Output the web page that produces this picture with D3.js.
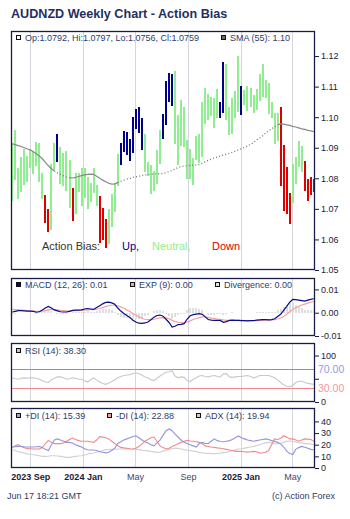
<!DOCTYPE html>
<html><head><meta charset="utf-8">
<script src="https://cdn.jsdelivr.net/npm/d3@7"></script>
<style>
body{margin:0;background:#fff}
svg{display:block;font-family:"Liberation Sans",Arial,sans-serif}
</style>
</head><body>
<svg id="c" width="350" height="519"></svg>
<script>
// ---------------- data ----------------
const startDate = "2023-07-21"; // first weekly bar
const highs = [
1.0916,1.0958,1.0834,1.0870,1.0896,1.0873,1.0896,1.0889,1.0919,1.0916,
1.0817,1.0745,1.0700,1.0847,1.0916,1.0945,1.0902,1.0883,1.0889,1.0860,
1.0768,1.0817,1.0817,1.0834,1.0834,1.0804,1.0785,1.0834,1.0778,1.0742,
1.0703,1.0667,1.0700,1.0749,1.0785,1.0880,1.0916,1.0955,1.0951,1.0929,
1.1001,1.1027,1.1033,1.0997,1.0945,1.0853,1.0844,1.0824,1.0893,1.0958,
1.1010,1.1118,1.1144,1.1141,1.1151,1.1007,1.1056,1.1033,1.0925,1.0896,
1.0866,1.0938,1.0945,1.1050,1.1095,1.1076,1.1066,1.1063,1.1092,1.1050,
1.1180,1.1174,1.1033,1.1063,1.1086,1.1200,1.1102,1.1089,1.1102,1.1095,
1.1072,1.1092,1.1141,1.1174,1.1122,1.1112,1.1050,1.1014,1.1014,1.1033,
1.0909,1.0837,1.0752,1.0847,1.0870,1.0922,1.0906,1.0857,1.0798,1.0804,
1.0797];
const lows = [
1.0726,1.0795,1.0732,1.0755,1.0778,1.0788,1.0834,1.0814,1.0840,1.0788,
1.0732,1.0654,1.0624,1.0631,1.0827,1.0853,1.0781,1.0775,1.0759,1.0703,
1.0660,1.0683,1.0755,1.0710,1.0735,1.0700,1.0723,1.0752,1.0710,1.0588,
1.0598,1.0572,1.0585,1.0641,1.0690,1.0775,1.0844,1.0886,1.0876,1.0857,
1.0883,1.0961,1.0948,1.0893,1.0821,1.0808,1.0749,1.0759,1.0781,1.0847,
1.0929,1.0974,1.1050,1.1036,1.0912,1.0844,1.0906,1.0902,1.0798,1.0798,
1.0778,1.0860,1.0850,1.0870,1.0978,1.0991,1.1004,1.0965,1.0997,1.0997,
1.1014,1.0991,1.0942,1.0945,1.0997,1.1017,1.1007,1.1040,1.1020,1.1033,
1.1014,1.1023,1.1053,1.1066,1.1063,1.1010,1.0997,1.0912,1.0922,1.0775,
1.0693,1.0683,1.0651,1.0719,1.0781,1.0837,1.0821,1.0759,1.0726,1.0745,
1.0756];
// action bias per week: U = up, N = neutral, D = down
const bias = ("NNNNNNNNNNNDDNNUNNNNDNNNNNNNNDDDNNNNUUUUUUUUNNNNNNUUUUNNNNNNNNNNNNNNNUUNNNNNUNNNNNNNNNNNNDDDDNNNNDDDD").split("");
const sma = [
1.0913,1.0910,1.0907,1.0904,1.0900,1.0896,1.0893,1.0887,1.0880,1.0873,
1.0864,1.0852,1.0841,1.0831,1.0824,1.0818,1.0813,1.0808,1.0804,1.0802,
1.0801,1.0803,1.0806,1.0809,1.0811,1.0813,1.0814,1.0813,1.0807,1.0800,
1.0794,1.0789,1.0784,1.0781,1.0782,1.0786,1.0790,1.0794,1.0797,1.0800,
1.0803,1.0805,1.0807,1.0809,1.0811,1.0812,1.0813,1.0814,1.0815,1.0815,
1.0816,1.0818,1.0822,1.0826,1.0831,1.0835,1.0838,1.0840,1.0841,1.0842,
1.0843,1.0843,1.0845,1.0849,1.0854,1.0859,1.0863,1.0867,1.0870,1.0873,
1.0876,1.0879,1.0882,1.0885,1.0889,1.0893,1.0897,1.0901,1.0906,1.0911,
1.0917,1.0925,1.0932,1.0939,1.0948,1.0955,1.0962,1.0969,1.0975,1.0978,
1.0977,1.0975,1.0973,1.0970,1.0968,1.0965,1.0962,1.0960,1.0957,1.0955,
1.0953];
const macd = [
0.0003,0.0006,0.0009,0.0009,0.0008,0.0007,0.0007,0.0006,0.0002,0.0004,
0.0012,0.0020,0.0027,0.0020,0.0012,0.0008,0.0004,0.0003,0.0003,0.0006,
0.0010,0.0011,0.0011,0.0012,0.0016,0.0018,0.0016,0.0014,0.0022,0.0030,
0.0038,0.0044,0.0045,0.0042,0.0036,0.0020,0.0007,-0.0003,-0.0012,-0.0020,
-0.0032,-0.0040,-0.0045,-0.0046,-0.0044,-0.0040,-0.0030,-0.0019,-0.0012,-0.0010,
-0.0015,-0.0028,-0.0042,-0.0062,-0.0058,-0.0051,-0.0050,-0.0047,-0.0027,-0.0013,
-0.0008,-0.0006,-0.0004,-0.0007,-0.0018,-0.0029,-0.0032,-0.0033,-0.0033,-0.0033,
-0.0041,-0.0038,-0.0033,-0.0032,-0.0033,-0.0033,-0.0034,-0.0034,-0.0035,-0.0034,
-0.0034,-0.0032,-0.0031,-0.0030,-0.0030,-0.0031,-0.0030,-0.0026,-0.0016,-0.0007,
0.0010,0.0027,0.0045,0.0057,0.0056,0.0054,0.0052,0.0050,0.0054,0.0057,
0.0060];
const signal = [
0.0014,0.0013,0.0012,0.0011,0.0010,0.0009,0.0008,0.0007,0.0006,0.0006,
0.0007,0.0009,0.0012,0.0013,0.0013,0.0012,0.0010,0.0009,0.0008,0.0008,
0.0008,0.0009,0.0010,0.0010,0.0011,0.0012,0.0013,0.0013,0.0015,0.0018,
0.0022,0.0026,0.0030,0.0032,0.0032,0.0030,0.0025,0.0019,0.0012,0.0005,
-0.0003,-0.0011,-0.0018,-0.0024,-0.0028,-0.0030,-0.0030,-0.0028,-0.0025,-0.0022,
-0.0021,-0.0022,-0.0026,-0.0033,-0.0038,-0.0041,-0.0043,-0.0043,-0.0040,-0.0035,
-0.0029,-0.0025,-0.0021,-0.0018,-0.0018,-0.0020,-0.0023,-0.0025,-0.0027,-0.0028,
-0.0031,-0.0033,-0.0033,-0.0033,-0.0033,-0.0033,-0.0033,-0.0034,-0.0034,-0.0034,
-0.0034,-0.0034,-0.0033,-0.0033,-0.0032,-0.0032,-0.0031,-0.0030,-0.0027,-0.0023,
-0.0016,-0.0007,0.0004,0.0014,0.0022,0.0028,0.0033,0.0037,0.0041,0.0045,
0.0048];
const rsi = [
52,50,49,51,52,51,52,52,51,49,
46,43,42,48,51,54,54,52,49,50,
52,51,49,49,46,43,48,52,47,43,
40,38,41,44,48,52,55,57,58,59,
61,63,61,58,54,52,48,46,51,56,
60,64,65,67,56,52,54,53,46,44,
49,52,56,57,55,54,56,57,55,54,
60,61,54,53,54,55,55,56,57,55,
52,54,57,57,57,57,55,52,47,42,
37,34,33,36,42,44,45,42,40,39,
38.3];
const plusDI = [
18,18.3,18.5,18.5,18.2,18,18,18,18.3,18.5,
17.5,16,15,20,24,25,24,23,22,22,
21.5,20,19,18,16.5,15.7,15.5,15.5,15,14,
13.5,13,13.5,15,17,21,22.5,24,25,26,
27,27.7,26,24,22.5,21.5,20,19,21.5,24,
28,32,33.5,32,29,26.6,24,22,21,20,
19,18,21,22,21,21,23,25,23.5,22.8,
22.5,23,23.5,24.5,26,27.5,26,25,24,23.5,
23,23.5,24,24.5,25,24.5,23.5,23,22,20.5,
18,14.5,12.5,11.5,16,17.5,18.5,17.8,17,16,
15.39];
const minusDI = [
17.7,19,20,18.5,17.5,16.6,16.5,16.3,16.3,16.3,
17.5,21,23.7,22,20.9,20.9,20.9,21.5,23,24.5,
25.7,24.5,23.5,23,23,23,22.5,22,24,26.9,
26.5,26,25,23,21,19,17.7,17.3,17,16.5,
16.3,17,18.5,20.5,23,24.5,26,26.6,23,19,
17.5,16.3,17,18.5,19.5,21,22,23,23.7,23.2,
23,22.5,22,21,19,18.5,18,17.7,17.3,17,
16.5,16,15.5,15,14.3,14.3,14.3,14,13.6,14,
14.3,14,13,12.9,13.5,15,20,25,24.5,25.5,
27.7,26.5,25,25,24,23,24,25,24.8,24.5,
22.88];
const adx = [
15.7,15,14,13.4,12.8,12.2,11.8,11.4,11,10.5,
10,10,10.2,10.5,10.5,10.3,10,9.5,9.1,9.2,
9.5,10,10.3,10.5,11.2,12,12.5,12.9,13.5,14.3,
15,15.7,15.8,16,16.2,16.3,16.3,16.3,16.3,16.3,
16.3,16,15.7,15.3,15,14.7,14.2,13.8,13.4,13.6,
14.5,15.3,16,16.5,17,16.8,16.3,15.8,15.3,15,
14.5,14,13.4,13,12.7,12.5,12.3,12.3,12.5,12.8,
13.2,13.4,14,14.8,15.5,16.3,16.5,17,17.5,18,
18.5,19.2,20,20.8,21.5,22,21.5,21,20.9,21.2,
22,23,23,22.8,22.3,21.8,21.5,21,20.9,20.5,
19.94];
const priceTicks = [1.05,1.06,1.07,1.08,1.09,1.10,1.11,1.12];
const macdTicks = [-0.01,0,0.01];
const rsiTicks = [0,50,100];
const rsiLabelTicks = [0,100];
const rsiLevels = [70,30];
const diTicks = [0,10,20,30,40];
const monthTicks = ["2023-09-01","2024-01-01","2024-05-01","2024-09-01","2025-01-01","2025-05-01"];
const monthLabels = ["2023 Sep","2024 Jan","May","Sep","2025 Jan","May"];
const lastBar = {op:"1.0792", hi:"1.0797", lo:"1.0756", cl:"1.0759"};

// ---------------- chart ----------------
const svg = d3.select("#c");
const L = 11, R = 315;
const P = {main:[31,270], macd:[278,336], rsi:[343,402], di:[408,468]};
const frameCol = "#1b1b48", gridCol = "#d6d6de", axisTxt = "#22223a", legTxt = "#2e3d6b";
const biasColor = {U:"#00008b", N:"#90ee90", D:"#dd0000"};

const parse = d3.timeParse("%Y-%m-%d");
const d0 = parse(startDate);
const dates = highs.map((_, i) => d3.timeDay.offset(d0, 7 * i));
const monthDates = monthTicks.map(parse);
const x = d3.scaleTime().domain([new Date(2023,6,18,5), new Date(2025,5,22,16)]).range([L, R]);
const bx = d => Math.round(x(d));

const yMain = d3.scaleLinear().domain([1.05, 1.1282]).range([P.main[1], P.main[0]]);
const yMacd = d3.scaleLinear().domain([-0.01, 0.0149]).range([P.macd[1], P.macd[0]]);
const yRsi = d3.scaleLinear().domain([0, 127]).range([P.rsi[1], P.rsi[0]]);
const yDi = d3.scaleLinear().domain([0, 51.5]).range([P.di[1], P.di[0]]);

// title
svg.append("text").attr("x", 11).attr("y", 18).attr("font-size", 12.6).attr("font-weight", "bold")
  .attr("fill", "#1f2f5f").text("AUDNZD Weekly Chart - Action Bias");

// clip paths & gridlines
const defs = svg.append("defs");
Object.entries(P).forEach(([k, [t, b]]) => {
  defs.append("clipPath").attr("id", "clip-" + k).append("rect")
    .attr("x", L).attr("y", t).attr("width", R - L).attr("height", b - t);
  svg.append("g").selectAll("line").data(monthDates).join("line")
    .attr("x1", d => Math.round(x(d)) + 0.5).attr("x2", d => Math.round(x(d)) + 0.5)
    .attr("y1", t).attr("y2", b).attr("stroke", gridCol).attr("stroke-width", 1);
});

// ---- main panel ----
const gMain = svg.append("g").attr("clip-path", "url(#clip-main)");
gMain.selectAll("rect").data(dates).join("rect")
  .attr("x", d => bx(d) - 1).attr("width", 2)
  .attr("y", (d, i) => yMain(highs[i]))
  .attr("height", (d, i) => yMain(lows[i]) - yMain(highs[i]))
  .attr("fill", (d, i) => biasColor[bias[i]])
  .attr("shape-rendering", "crispEdges");

// SMA: dotted while the bias regime is up (after an Up bar, until a Down bar)
let up = false;
const dotted = bias.map(b => { if (b === "U") up = true; else if (b === "D") up = false; return up; });
const runs = [];
let cur = null;
for (let i = 1; i < sma.length; i++) {
  if (!cur || cur.dotted !== dotted[i]) { cur = {dotted: dotted[i], idx: [i - 1]}; runs.push(cur); }
  cur.idx.push(i);
}
const smaLine = d3.line().x(i => x(dates[i])).y(i => yMain(sma[i]));
runs.forEach(r => {
  gMain.append("path").attr("d", smaLine(r.idx)).attr("fill", "none")
    .attr("stroke", r.dotted ? "#777" : "#888").attr("stroke-width", r.dotted ? 1.3 : 1.2)
    .attr("stroke-dasharray", r.dotted ? "1,2.2" : null);
});

// ---- MACD panel ----
const gMacd = svg.append("g").attr("clip-path", "url(#clip-macd)");
gMacd.selectAll("rect").data(dates).join("rect")
  .attr("x", d => bx(d) - 1).attr("width", 2)
  .attr("y", (d, i) => Math.min(yMacd(0), yMacd(macd[i] - signal[i])))
  .attr("height", (d, i) => Math.abs(yMacd(macd[i] - signal[i]) - yMacd(0)))
  .attr("fill", "#dedede").attr("shape-rendering", "crispEdges");
const mLine = arr => d3.line().x((d, i) => x(dates[i])).y(d => yMacd(d))(arr);
gMacd.append("path").attr("d", mLine(signal)).attr("fill", "none").attr("stroke", "#f4a0a0").attr("stroke-width", 1.2);
gMacd.append("path").attr("d", mLine(macd)).attr("fill", "none").attr("stroke", "#0a0a8a").attr("stroke-width", 1.2);

// ---- RSI panel ----
const gRsi = svg.append("g").attr("clip-path", "url(#clip-rsi)");
gRsi.selectAll("line").data(rsiLevels).join("line")
  .attr("x1", L).attr("x2", R)
  .attr("y1", d => Math.round(yRsi(d)) + 0.5).attr("y2", d => Math.round(yRsi(d)) + 0.5)
  .attr("stroke", d => d === 70 ? "#8a8ad6" : "#f08888").attr("stroke-width", 1);
gRsi.append("path").attr("d", d3.line().x((d, i) => x(dates[i])).y(d => yRsi(d))(rsi))
  .attr("fill", "none").attr("stroke", "#c8c8c8").attr("stroke-width", 1.1);

// ---- DI panel ----
const gDi = svg.append("g").attr("clip-path", "url(#clip-di)");
const dLine = arr => d3.line().x((d, i) => x(dates[i])).y(d => yDi(d))(arr);
gDi.append("path").attr("d", dLine(adx)).attr("fill", "none").attr("stroke", "#d2d2d2").attr("stroke-width", 1.2);
gDi.append("path").attr("d", dLine(minusDI)).attr("fill", "none").attr("stroke", "#f08a8a").attr("stroke-width", 1.1);
gDi.append("path").attr("d", dLine(plusDI)).attr("fill", "none").attr("stroke", "#9494dc").attr("stroke-width", 1.1);

// frames
Object.values(P).forEach(([t, b]) => {
  svg.append("rect").attr("x", L + 0.5).attr("y", t + 0.5).attr("width", R - L - 1).attr("height", b - t - 1)
    .attr("fill", "none").attr("stroke", frameCol).attr("stroke-width", 1.3);
});

// right axes
function rightAxis(scale, ticks, fmt) {
  const g = svg.append("g").attr("transform", `translate(${R},0)`)
    .call(d3.axisRight(scale).tickValues(ticks).tickSize(4).tickPadding(2).tickFormat(fmt));
  g.select(".domain").remove();
  g.selectAll(".tick line").attr("stroke", frameCol);
  g.selectAll(".tick text").attr("fill", axisTxt).attr("font-size", 9)
    .attr("font-family", '"Liberation Sans",Arial,sans-serif');
  return g;
}
rightAxis(yMain, priceTicks, d => d.toFixed(2));
rightAxis(yMacd, macdTicks, d => d.toFixed(2));
rightAxis(yRsi, rsiTicks, d => rsiLabelTicks.includes(d) ? String(d) : "");
rightAxis(yDi, diTicks, d => String(d));
svg.append("g").selectAll("text").data(rsiLevels).join("text")
  .attr("x", R + 3).attr("y", d => yRsi(d)).attr("dy", "0.36em")
  .attr("font-size", 10.5).attr("fill", d => d === 70 ? "#9a9ae0" : "#f29a9a")
  .text(d => d.toFixed(2));

// bottom month labels
const xa = svg.append("g").attr("transform", `translate(0,${P.di[1]})`)
  .call(d3.axisBottom(x).tickValues(monthDates).tickSize(0).tickPadding(6).tickFormat((d, i) => monthLabels[i]));
xa.select(".domain").remove();
xa.selectAll(".tick text")
  .attr("font-size", 9).attr("font-family", '"Liberation Sans",Arial,sans-serif')
  .attr("font-weight", (d, i) => /\d/.test(monthLabels[i]) ? "bold" : "normal")
  .attr("fill", (d, i) => /\d/.test(monthLabels[i]) ? "#1a1a3a" : "#3a4870");

// legends
function legend(items, sqY, txtY) {
  items.forEach(it => {
    svg.append("rect").attr("x", it.x + 0.5).attr("y", sqY + 0.5).attr("width", 4).attr("height", 4)
      .attr("fill", it.fill).attr("stroke", "#111").attr("stroke-width", 1);
    svg.append("text").attr("x", it.x + 9).attr("y", txtY).attr("font-size", 9).attr("fill", legTxt).text(it.label);
  });
}
legend([
  {x: 16, fill: "#fff", label: `Op:${lastBar.op}, Hi:${lastBar.hi}, Lo:${lastBar.lo}, Cl:${lastBar.cl}`},
  {x: 221, fill: "#666", label: `SMA (55): ${sma[sma.length - 1].toFixed(2)}`}
], 35, 40.5);
legend([
  {x: 16, fill: "#000080", label: `MACD (12, 26): ${macd[macd.length - 1].toFixed(2)}`},
  {x: 130, fill: "#f4a6a6", label: `EXP (9): ${signal[signal.length - 1].toFixed(2)}`},
  {x: 215, fill: "#e2e2e2", label: `Divergence: ${(macd[macd.length - 1] - signal[signal.length - 1]).toFixed(2)}`}
], 282, 287.5);
legend([
  {x: 16, fill: "#c4c4c4", label: `RSI (14): ${rsi[rsi.length - 1].toFixed(2)}`}
], 348, 353.5);
legend([
  {x: 16, fill: "#a0a0e0", label: `+DI (14): ${plusDI[plusDI.length - 1].toFixed(2)}`},
  {x: 107, fill: "#f4a0a0", label: `-DI (14): ${minusDI[minusDI.length - 1].toFixed(2)}`},
  {x: 196, fill: "#d0d0d0", label: `ADX (14): ${adx[adx.length - 1].toFixed(2)}`}
], 413, 418.5);

// action bias key
const key = [
  {x: 42, t: "Action Bias:", c: "#333"},
  {x: 122, t: "Up,", c: biasColor.U},
  {x: 152, t: "Neutral,", c: biasColor.N},
  {x: 212, t: "Down", c: biasColor.D}
];
svg.append("g").selectAll("text").data(key).join("text")
  .attr("x", d => d.x).attr("y", 250).attr("font-size", 11).attr("fill", d => d.c).text(d => d.t);

// footer
svg.append("text").attr("x", 7).attr("y", 499).attr("font-size", 9).attr("fill", legTxt).text("Jun 17 18:21 GMT");
svg.append("text").attr("x", 335).attr("y", 499).attr("text-anchor", "end").attr("font-size", 9).attr("fill", legTxt).text("(c) Action Forex");
</script>
</body></html>
